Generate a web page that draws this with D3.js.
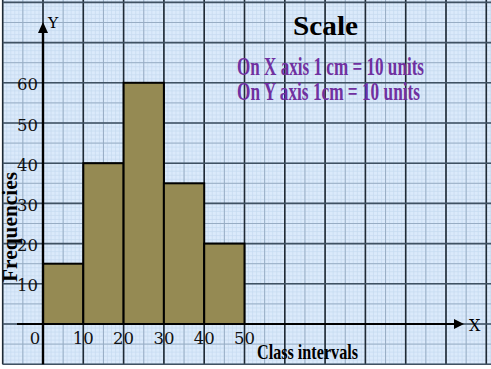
<!DOCTYPE html>
<html>
<head>
<meta charset="utf-8">
<script src="https://cdn.jsdelivr.net/npm/d3@7"></script>
<style>
  html, body { margin: 0; padding: 0; background: #fff; }
  svg { display: block; }
</style>
</head>
<body>
<svg id="chart" width="491" height="369"></svg>
<script>
// ---- data ----
const classStarts = [0, 10, 20, 30, 40];
const classEnds = [10, 20, 30, 40, 50];
const frequencies = [15, 40, 60, 35, 20];
const xTickLabels = ["0", "10", "20", "30", "40", "50"];
const yTickLabels = ["10", "20", "30", "40", "50", "60"];
const scaleLines = ["On X axis 1 cm = 10 units", "On Y axis 1cm = 10 units"];

const svg = d3.select("#chart");

// graph paper: one unit = ~4px, major square = 10 units
const x = d3.scaleLinear().domain([0, 10]).range([43, 83.3]);
const y = d3.scaleLinear().domain([0, 10]).range([324, 283.8]);

const xMin = -10, xMax = 112, yMin = -10, yMax = 81;

// paper background
svg.append("rect")
  .attr("x", x(xMin)).attr("y", 0)
  .attr("width", 491 - x(xMin)).attr("height", y(yMin))
  .attr("fill", "#dbeafb");

const grid = svg.append("g");

function gridLines(step, vColor, hColor, width) {
  d3.range(xMin, xMax + 0.01, step).forEach(v => {
    grid.append("line")
      .attr("x1", x(v)).attr("x2", x(v))
      .attr("y1", 0).attr("y2", y(yMin))
      .attr("stroke", vColor).attr("stroke-width", width);
  });
  d3.range(yMin, yMax + 0.01, step).forEach(v => {
    grid.append("line")
      .attr("x1", x(xMin)).attr("x2", 491)
      .attr("y1", y(v)).attr("y2", y(v))
      .attr("stroke", hColor).attr("stroke-width", width);
  });
}
gridLines(1, "#c6daef", "#c6daef", 0.7);
gridLines(5, "#98adc4", "#98adc4", 1);
gridLines(10, "#1f2a35", "#405263", 1.6);

// bars
svg.append("g").selectAll("rect")
  .data(frequencies)
  .join("rect")
  .attr("x", (d, i) => x(classStarts[i]))
  .attr("y", d => y(d))
  .attr("width", (d, i) => x(classEnds[i]) - x(classStarts[i]))
  .attr("height", d => y(0) - y(d))
  .attr("fill", "#958a53")
  .attr("stroke", "#000")
  .attr("stroke-width", 2);

// axes
svg.append("line")
  .attr("x1", 17).attr("x2", 454)
  .attr("y1", y(0)).attr("y2", y(0))
  .attr("stroke", "#000").attr("stroke-width", 2);
svg.append("path")
  .attr("d", `M454,${y(0) - 5}L464,${y(0)}L454,${y(0) + 5}Z`)
  .attr("fill", "#000");

svg.append("line")
  .attr("x1", x(0)).attr("x2", x(0))
  .attr("y1", y(yMin)).attr("y2", 32)
  .attr("stroke", "#000").attr("stroke-width", 2.4);
svg.append("path")
  .attr("d", `M${x(0) - 5},33L${x(0)},22L${x(0) + 5},33Z`)
  .attr("fill", "#000");

const serif = "'DejaVu Serif', serif";

// tick labels
svg.append("g").selectAll("text")
  .data(yTickLabels)
  .join("text")
  .attr("x", 38)
  .attr("y", d => y(+d) + 7.5)
  .attr("text-anchor", "end")
  .attr("font-family", serif)
  .attr("font-size", 16.5)
  .attr("fill", "#111")
  .text(d => d);

svg.append("g").selectAll("text")
  .data(xTickLabels)
  .join("text")
  .attr("x", d => d === "0" ? x(0) - 8 : x(+d))
  .attr("y", 344)
  .attr("text-anchor", "middle")
  .attr("font-family", serif)
  .attr("font-size", 16.5)
  .attr("fill", "#111")
  .text(d => d);

svg.append("text")
  .attr("x", 48).attr("y", 28)
  .attr("font-family", serif).attr("font-size", 15.5)
  .text("Y");
svg.append("text")
  .attr("x", 469).attr("y", 331)
  .attr("font-family", serif).attr("font-size", 16)
  .text("X");

// axis titles
const bold = "'Liberation Serif', serif";
svg.append("text")
  .attr("transform", "translate(17,227) rotate(-90)")
  .attr("text-anchor", "middle")
  .attr("font-family", bold).attr("font-weight", "bold").attr("font-size", 22)
  .attr("textLength", 110).attr("lengthAdjust", "spacingAndGlyphs")
  .text("Frequencies");

svg.append("text")
  .attr("x", 257).attr("y", 359)
  .attr("font-family", bold).attr("font-weight", "bold").attr("font-size", 21)
  .attr("textLength", 101).attr("lengthAdjust", "spacingAndGlyphs")
  .text("Class intervals");

// scale note
svg.append("text")
  .attr("x", 293).attr("y", 35)
  .attr("font-family", bold).attr("font-weight", "bold").attr("font-size", 28)
  .attr("textLength", 65).attr("lengthAdjust", "spacingAndGlyphs")
  .text("Scale");

svg.append("g").selectAll("text")
  .data(scaleLines)
  .join("text")
  .attr("x", 237)
  .attr("y", (d, i) => 75 + i * 25)
  .attr("font-family", bold).attr("font-weight", "bold").attr("font-size", 25)
  .attr("fill", "#7030a0")
  .attr("textLength", (d, i) => i === 0 ? 187 : 183)
  .attr("lengthAdjust", "spacingAndGlyphs")
  .text(d => d);
</script>
</body>
</html>
